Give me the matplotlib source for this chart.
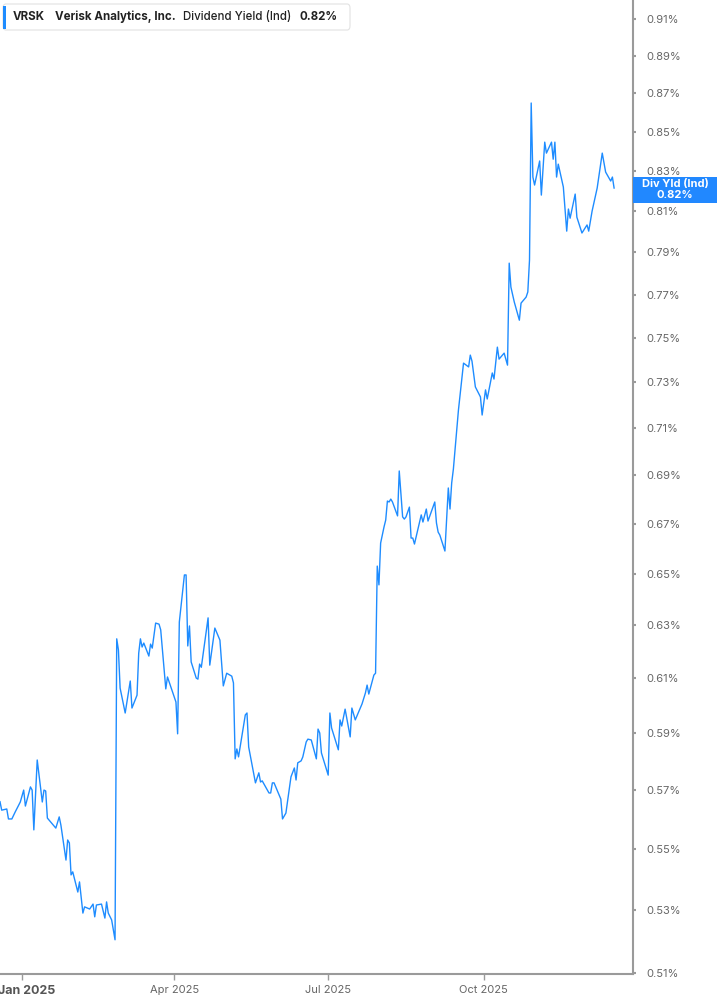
import matplotlib
matplotlib.use("Agg")
import matplotlib.pyplot as plt
import matplotlib.dates as mdates
import matplotlib.transforms as mtransforms
from matplotlib.patches import FancyBboxPatch, Rectangle
from matplotlib.ticker import FixedLocator, NullLocator
import numpy as np

plt.rcParams['font.family'] = ['Inter', 'DejaVu Sans']

# days counted from 2025-01-01, dividend yield in %
day_offsets = [-13, -12, -9, -8, -6, -4, -1, 1, 2, 5, 6, 7, 9, 12, 13, 14, 15, 20, 22, 23,
               26, 27, 28, 29, 30, 33, 34, 36, 37, 40, 42, 43, 44, 47, 49, 50, 51, 53, 55, 56,
               57, 58, 61, 64, 65, 68, 69, 70, 71, 72, 75, 76, 77, 79, 81, 82, 85, 86, 91, 92,
               93, 96, 97, 98, 99, 100, 103, 104, 105, 106, 110, 111, 114, 117, 119, 121, 124, 125, 126, 127,
               128, 132, 133, 134, 138, 140, 141, 142, 146, 147, 148, 149, 153, 154, 156, 159, 161, 162, 163, 165,
               166, 168, 169, 171, 174, 175, 176, 177, 181, 182, 183, 187, 188, 189, 191, 194, 195, 197, 201, 203,
               204, 205, 208, 209, 210, 211, 212, 214, 215, 216, 217, 218, 219, 222, 223, 225, 226, 227, 229, 230,
               231, 232, 236, 237, 239, 240, 244, 245, 246, 247, 250, 252, 253, 254, 255, 258, 261, 264, 265, 266,
               268, 271, 272, 274, 275, 278, 279, 281, 282, 285, 287, 288, 289, 291, 294, 295, 298, 299, 300, 301,
               302, 303, 306, 307, 309, 310, 313, 314, 315, 316, 317, 320, 322, 323, 324, 327, 328, 331, 334, 335,
               337, 340, 343, 345, 348, 349, 350]
yield_pct = [0.5660, 0.5631, 0.5635, 0.5601, 0.5601, 0.5625, 0.5659, 0.5700, 0.5645, 0.5711,
             0.5700, 0.5564, 0.5805, 0.5659, 0.5700, 0.5697, 0.5604, 0.5570, 0.5608, 0.5580,
             0.5463, 0.5530, 0.5520, 0.5414, 0.5424, 0.5358, 0.5391, 0.5290, 0.5310, 0.5303,
             0.5319, 0.5278, 0.5316, 0.5319, 0.5274, 0.5326, 0.5290, 0.5268, 0.5205, 0.6248,
             0.6206, 0.6064, 0.5973, 0.6090, 0.5991, 0.6038, 0.6194, 0.6248, 0.6217, 0.6232,
             0.6183, 0.6228, 0.6213, 0.6308, 0.6304, 0.6282, 0.6061, 0.6105, 0.6013, 0.5898,
             0.6312, 0.6495, 0.6495, 0.6221, 0.6297, 0.6161, 0.6101, 0.6097, 0.6153, 0.6141,
             0.6328, 0.6149, 0.6289, 0.6243, 0.6072, 0.6119, 0.6108, 0.6083, 0.5809, 0.5844,
             0.5816, 0.5966, 0.5973, 0.5851, 0.5725, 0.5760, 0.5728, 0.5732, 0.5690, 0.5690,
             0.5725, 0.5725, 0.5669, 0.5601, 0.5621, 0.5746, 0.5777, 0.5735, 0.5795, 0.5802,
             0.5816, 0.5869, 0.5879, 0.5876, 0.5809, 0.5915, 0.5901, 0.5830, 0.5752, 0.5973,
             0.5919, 0.5841, 0.5948, 0.5926, 0.5987, 0.5887, 0.5991, 0.5948, 0.6006, 0.6046,
             0.6075, 0.6042, 0.6112, 0.6119, 0.6530, 0.6456, 0.6622, 0.6687, 0.6715, 0.6793,
             0.6789, 0.6801, 0.6789, 0.6732, 0.6918, 0.6728, 0.6719, 0.6728, 0.6768, 0.6642,
             0.6642, 0.6618, 0.6736, 0.6707, 0.6760, 0.6711, 0.6789, 0.6703, 0.6666, 0.6654,
             0.6590, 0.6847, 0.6760, 0.6868, 0.6926, 0.7179, 0.7386, 0.7369, 0.7422, 0.7395,
             0.7280, 0.7236, 0.7157, 0.7267, 0.7227, 0.7342, 0.7315, 0.7458, 0.7404, 0.7431,
             0.7377, 0.7848, 0.7735, 0.7665, 0.7581, 0.7660, 0.7688, 0.7712, 0.7863, 0.8649,
             0.8269, 0.8229, 0.8350, 0.8179, 0.8446, 0.8390, 0.8446, 0.8359, 0.8446, 0.8269,
             0.8334, 0.8219, 0.8002, 0.8110, 0.8065, 0.8184, 0.8070, 0.7993, 0.8032, 0.8002,
             0.8100, 0.8214, 0.8390, 0.8294, 0.8249, 0.8269, 0.8214]

ticker_symbol = "VRSK"
company = "Verisk Analytics, Inc."
metric = "Dividend Yield (Ind)"
last_label = "0.82%"
y_ticks = [0.51, 0.53, 0.55, 0.57, 0.59, 0.61, 0.63, 0.65, 0.67, 0.69,
           0.71, 0.73, 0.75, 0.77, 0.79, 0.81, 0.83, 0.85, 0.87, 0.89, 0.91]
x_ticks = ["2025-01-01", "2025-04-01", "2025-07-01", "2025-10-01"]
x_tick_labels = ["Jan 2025", "Apr 2025", "Jul 2025", "Oct 2025"]

line_blue = "#1e8cff"
axis_grey = "#9a9a9a"
text_grey = "#666666"

dates = np.datetime64("2025-01-01") + np.array(day_offsets).astype("timedelta64[D]")

W, H = 717, 1005
fig = plt.figure(figsize=(W / 100, H / 100), dpi=100)
ax = fig.add_axes([0, 1 - 974 / H, 632.7 / W, 974 / H])

ax.plot(dates, yield_pct, color=line_blue, lw=1.0)

ax.set_yscale("log")
ax.set_ylim(0.5098, 0.9207)
ax.set_xlim(np.datetime64("2024-12-19"), np.datetime64("2025-12-28"))

ax.yaxis.tick_right()
ax.yaxis.set_major_locator(FixedLocator(y_ticks))
ax.yaxis.set_minor_locator(NullLocator())
ax.set_yticklabels([f"{t:.2f}%" for t in y_ticks])
ax.tick_params(axis="y", which="major", length=2.5, width=1.5, color=axis_grey,
               labelsize=8, labelcolor=text_grey, pad=7)

ax.set_xticks([mdates.datestr2num(d) for d in x_ticks])
ax.set_xticklabels(x_tick_labels)
ax.tick_params(axis="x", length=4, width=1, color=axis_grey,
               labelsize=8, labelcolor=text_grey, pad=4)
first = ax.get_xticklabels()[0]
first.set_fontsize(9)
first.set_fontweight("bold")
first.set_color("#555555")
# nudge so the first label stays mostly inside the frame
first.set_transform(first.get_transform() +
                    mtransforms.ScaledTranslation(5 / 100, 0, fig.dpi_scale_trans))

for s in ["left", "top"]:
    ax.spines[s].set_visible(False)
for s in ["right", "bottom"]:
    ax.spines[s].set_color(axis_grey)
    ax.spines[s].set_linewidth(1.5)

# header box
def px(x, y):
    return x / W, 1 - y / H

hx, hy = px(3, 30)
fig.patches.append(FancyBboxPatch((hx, hy), 347 / W, 26 / H,
                                  boxstyle="round,pad=0,rounding_size=0.004",
                                  transform=fig.transFigure, facecolor="white",
                                  edgecolor="#e2e2e2", lw=0.8, zorder=5))
bx, by = px(3, 29)
fig.patches.append(Rectangle((bx, by), 3 / W, 23 / H, transform=fig.transFigure,
                             facecolor=line_blue, edgecolor="none", zorder=6))
ty = 1 - 17 / H
fig.text(13 / W, ty, ticker_symbol, fontsize=8.3, fontweight="bold", color="#222222",
         va="center", zorder=7)
fig.text(55 / W, ty, company, fontsize=8.3, fontweight="bold", color="#222222",
         va="center", zorder=7)
fig.text(183 / W, ty, metric, fontsize=8.3, fontweight="medium", color="#222222",
         va="center", zorder=7)
fig.text(300 / W, ty, last_label, fontsize=8.3, fontweight="bold", color="#222222",
         va="center", zorder=7)

# last value tag
lx, ly = px(633, 203)
fig.patches.append(Rectangle((lx, ly), 84 / W, 26 / H, transform=fig.transFigure,
                             facecolor="#2188ff", edgecolor="none", zorder=5))
fig.text(675 / W, 1 - 184 / H, "Div Yld (Ind)", fontsize=8, fontweight="bold",
         color="white", ha="center", va="center", zorder=7)
fig.text(675 / W, 1 - 194.5 / H, last_label, fontsize=8, fontweight="bold",
         color="white", ha="center", va="center", zorder=7)

fig.savefig("out.png", dpi=100)
